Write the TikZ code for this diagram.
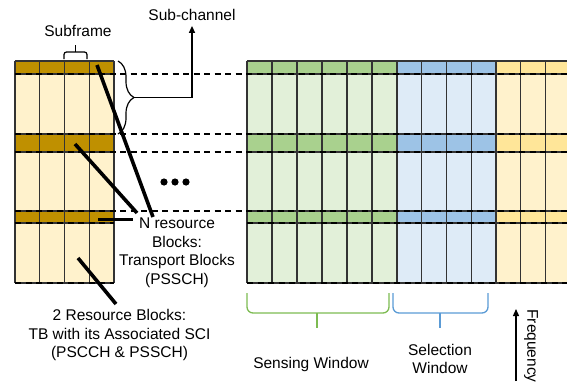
\documentclass[tikz,border=0pt]{standalone}
\usepackage{fontspec}
\setmainfont{Liberation Sans}
\usetikzlibrary{decorations.pathreplacing,arrows.meta}
\definecolor{goldband}{HTML}{BF9000}
\definecolor{goldbody}{HTML}{FFF2CC}
\definecolor{greenband}{HTML}{A9D18E}
\definecolor{greenbody}{HTML}{E2F0D9}
\definecolor{blueband}{HTML}{9DC3E6}
\definecolor{bluebody}{HTML}{DEEBF7}
\definecolor{yellowband}{HTML}{FFE699}
\definecolor{yellowbody}{HTML}{FFF2CC}
\definecolor{sensegreen}{HTML}{7DBB52}
\definecolor{selectblue}{HTML}{5B9BD5}

% One block of subframes: #1 left edge, #2 columns, #3 column width,
% #4 colour of the sub-channel bands, #5 colour of the rest
\newcommand\rbgrid[5]{%
  \fill[#5] (#1,61) rectangle ({#1+#2*#3},283);
  \foreach \yb/\ye in {61/74,134/152,211/223}{
    \fill[#4] (#1,\yb) rectangle ({#1+#2*#3},\ye);
  }
  \foreach \i in {0,...,#2}{
    \draw[gridline] ({#1+\i*#3},61) -- ({#1+\i*#3},283);
  }
  \foreach \yy in {61,74,134,152,211,223,283}{
    \draw[gridline] (#1,\yy) -- ({#1+#2*#3},\yy);
  }
}

\begin{document}
\begin{tikzpicture}[x=1pt,y=-1pt,
  lbl/.style={font=\fontsize{15.5}{18.5}\selectfont, align=center, inner sep=0pt},
  gridline/.style={draw=black!80, line width=1.1pt},
  rowdash/.style={dash pattern=on 6pt off 4.5pt, line width=1.4pt},
  pointer/.style={line width=3.6pt},
  thin arrow/.style={line width=1.3pt, -{Triangle[length=7pt,width=6pt]}},
]
\useasboundingbox (0,0) rectangle (567,383);

% resource grids
\rbgrid{15}{4}{24.75}{goldband}{goldbody}
\rbgrid{247}{6}{25}{greenband}{greenbody}
\rbgrid{397}{4}{24.75}{blueband}{bluebody}
\rbgrid{496}{3}{24.75}{yellowband}{yellowbody}

% sub-channel boundaries
\foreach \yy in {74,134,152,211}{
  \draw[rowdash] (15,\yy) -- (567,\yy);
}
\foreach \yy in {223,283}{
  \draw[rowdash] (15,\yy) -- (114,\yy);
  \draw[rowdash] (247,\yy) -- (567,\yy);
}

% ellipsis between the grids
\foreach \xx in {164,175,186}{
  \fill (\xx,182) circle (3.6pt);
}

% subframe brace
\node[lbl] (subframe) at (78,31) {Subframe};
\draw[line width=1.2pt, rounded corners=2.5pt] (64,59) -- (64,52) -- (87,52) -- (87,59);
\draw[line width=1.2pt] (75.5,52) -- (75.5,45);

% sub-channel brace and arrow
\node[lbl] (subch) at (192,15) {Sub-channel};
\draw[line width=1.2pt, decorate, decoration={brace, amplitude=16pt}] (118,61) -- (118,134);
\coordinate (brtip) at (134,97.5);
\draw[thin arrow, shorten >=5pt] (brtip) -| (subch.south);

% pointer labels
\node[lbl] (nrb) at (177,253) {N resource\\Blocks:\\Transport Blocks\\(PSSCH)};
\node[lbl] (trb) at (119.5,335) {2 Resource Blocks:\\TB with its Associated SCI\\(PSCCH \& PSSCH)};

\coordinate (p1a) at (97,65);   \coordinate (p1b) at (153,217);
\coordinate (p2a) at (75,144);  \coordinate (p2b) at (137,213);
\coordinate (p3a) at (98,219.5);\coordinate (p3b) at (133,219.5);
\coordinate (p4a) at (78,258);  \coordinate (p4b) at (116,304);
\draw[pointer] (p1a) -- (p1b);
\draw[pointer] (p2a) -- (p2b);
\draw[pointer] (p3a) -- (p3b);
\draw[pointer] (p4a) -- (p4b);

% window braces
\draw[sensegreen, line width=1.3pt, rounded corners=6pt] (247,293) -- (247,313) -- (389,313) -- (389,293);
\draw[sensegreen, line width=1.3pt] (317,313) -- (317,328);
\draw[selectblue, line width=1.3pt, rounded corners=6pt] (393,293) -- (393,313) -- (488,313) -- (488,293);
\draw[selectblue, line width=1.3pt] (440,313) -- (440,328);

\node[lbl] (sense) at (311,364) {Sensing Window};
\node[lbl] (select) at (440,359) {Selection\\Window};

% frequency axis
\coordinate (fbot) at (516,381);
\coordinate (ftop) at (516,309);
\draw[thin arrow] (fbot) -- (ftop);
\node[lbl, rotate=-90] (freq) at (531,346) {Frequency};
\end{tikzpicture}
\end{document}
